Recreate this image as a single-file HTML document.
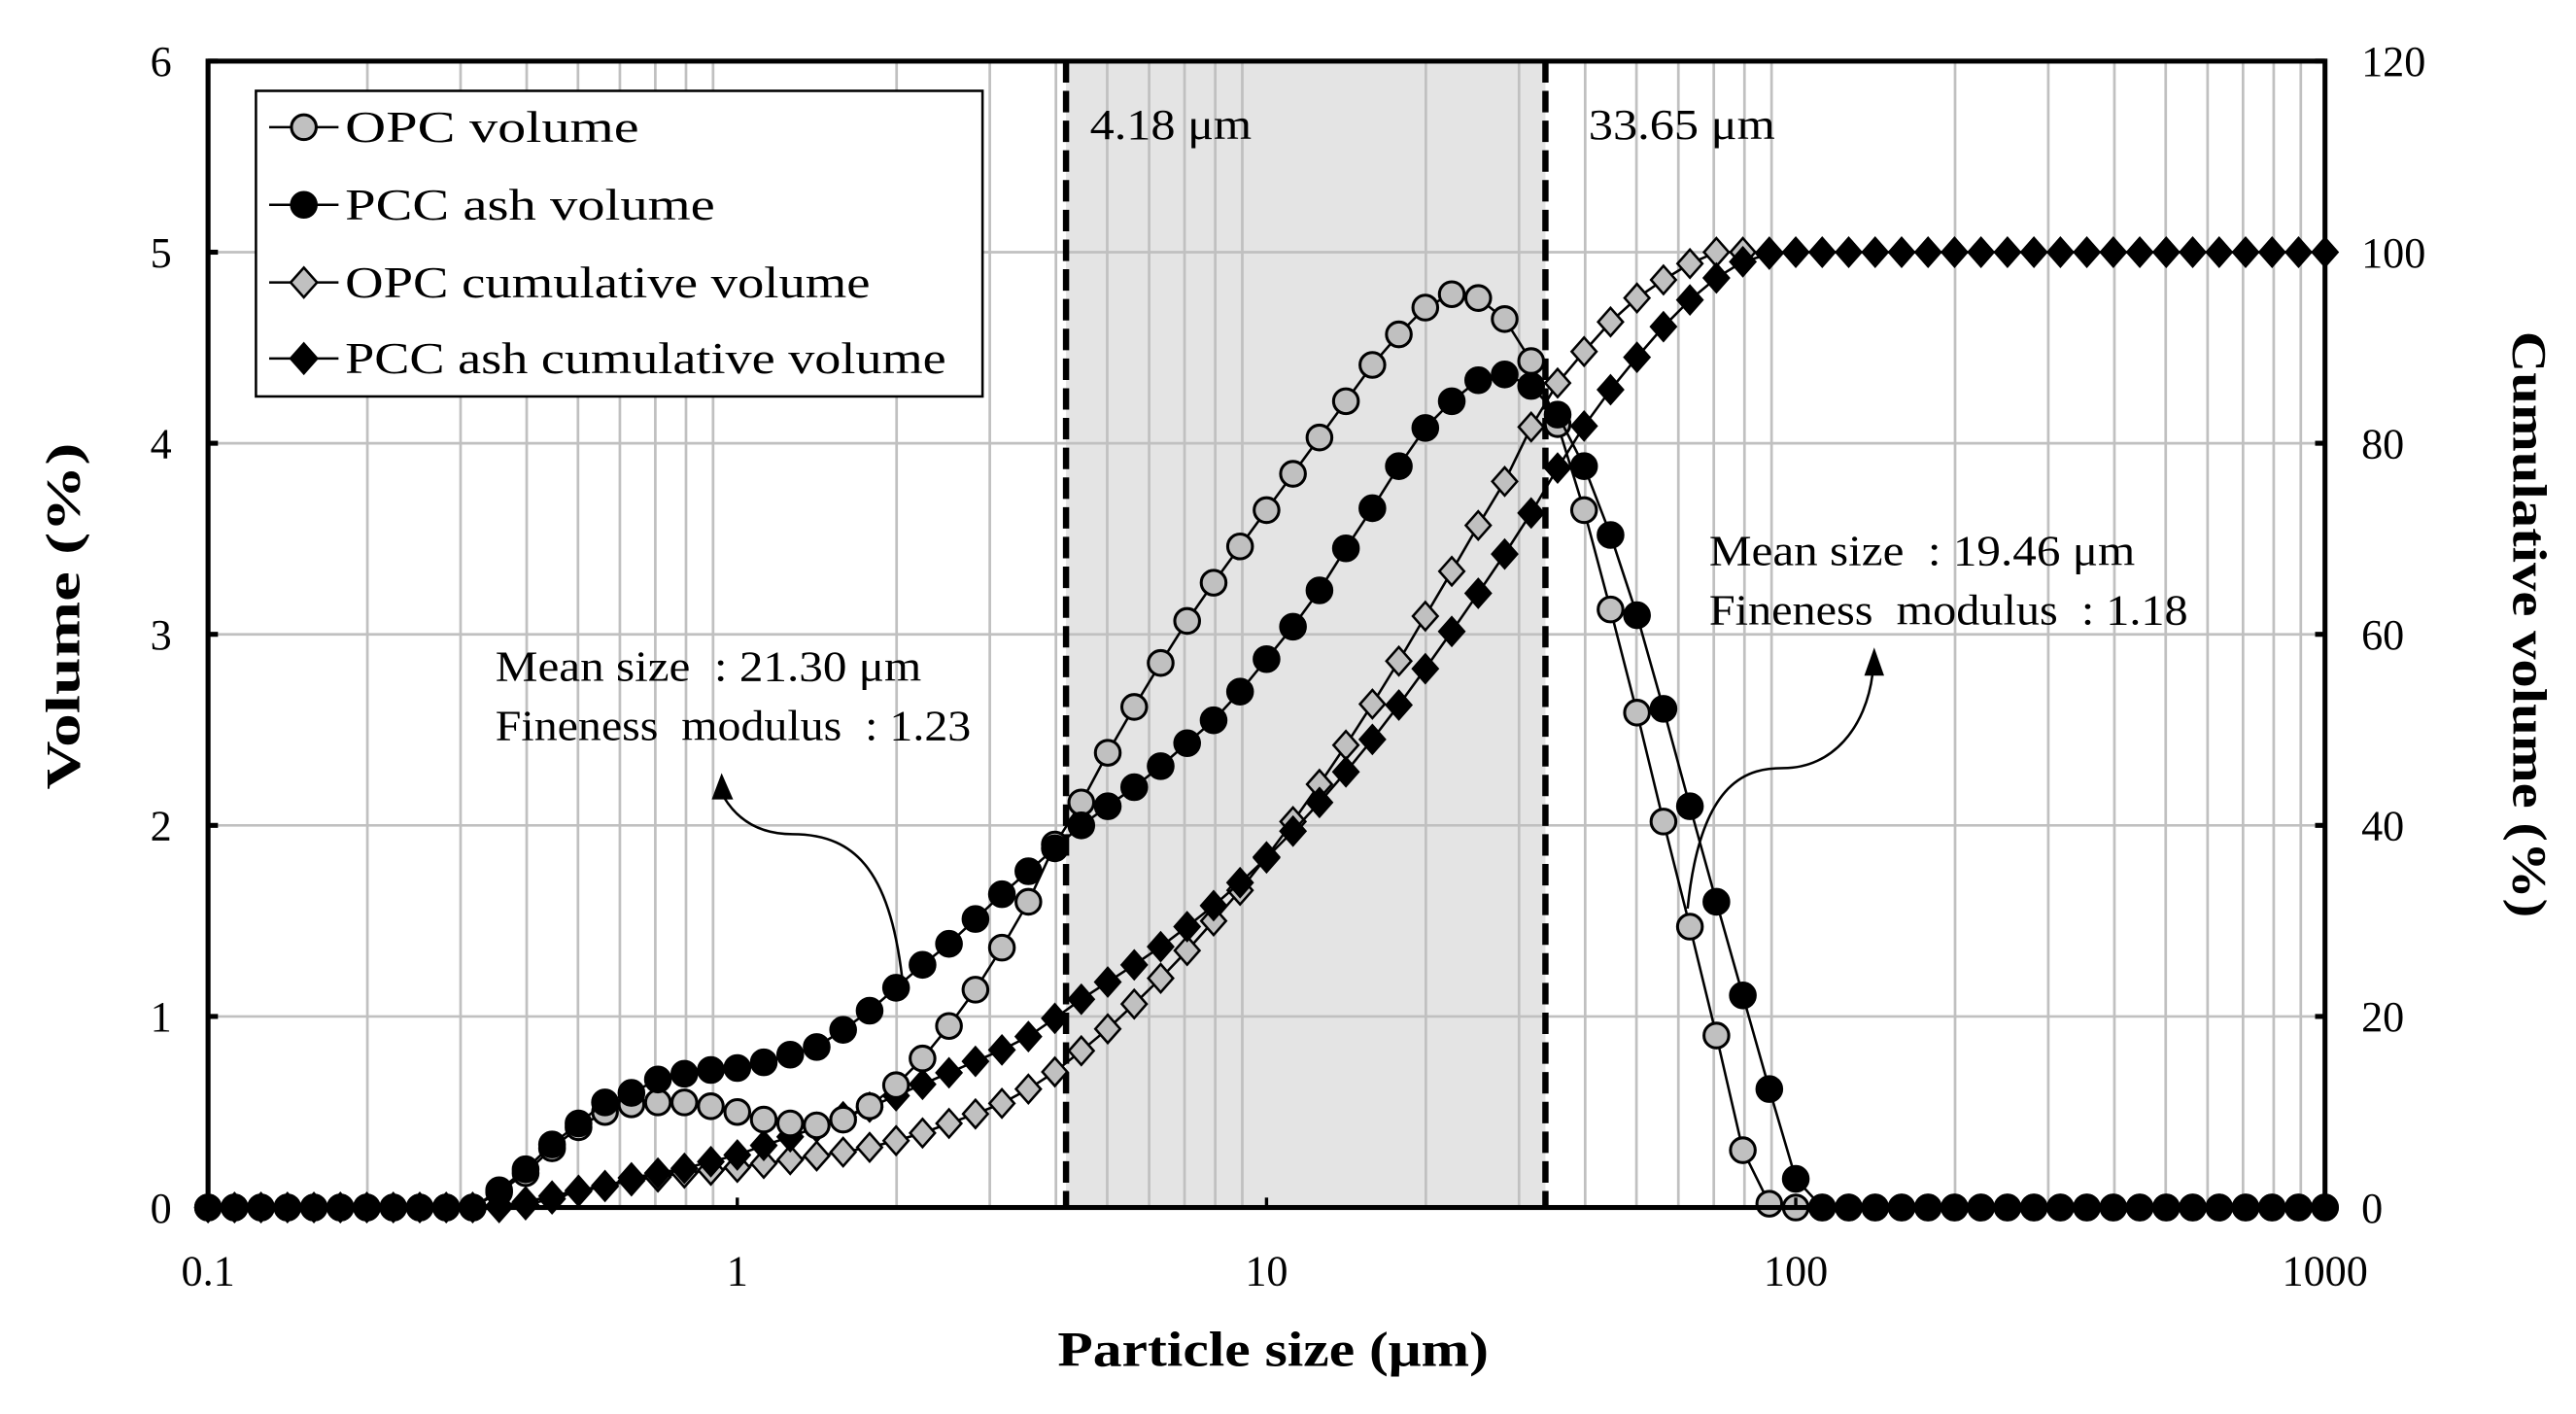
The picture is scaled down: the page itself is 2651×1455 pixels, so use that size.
<!DOCTYPE html>
<html><head><meta charset="utf-8"><style>
html,body{margin:0;padding:0;background:#fff;}
svg{display:block;}
text{font-family:"Liberation Serif",serif;fill:#000;}
</style></head><body>
<svg id="chart" width="2651" height="1455" viewBox="0 0 1560 856" preserveAspectRatio="none" xmlns="http://www.w3.org/2000/svg">
<g id="grid"></g>
<g id="band"></g>
<g id="series"></g>
<g id="axes"></g>
<g>
 <rect x="155" y="55" width="440" height="185" fill="#fff" stroke="#000" stroke-width="1.5"/>
 <g>
  <line x1="163" y1="77" x2="205" y2="77" stroke="#000" stroke-width="1.5"/><circle cx="184" cy="77" r="7.5" fill="#c0c0c0" stroke="#000" stroke-width="1.8"/>
  <text x="209" y="86" font-size="27" textLength="178" lengthAdjust="spacingAndGlyphs">OPC volume</text></g>
 <g>
  <line x1="163" y1="124" x2="205" y2="124" stroke="#000" stroke-width="1.5"/><circle cx="184" cy="124" r="7.5" fill="#000" stroke="#000" stroke-width="1.8"/>
  <text x="209" y="133" font-size="27" textLength="224" lengthAdjust="spacingAndGlyphs">PCC ash volume</text></g>
 <g>
  <line x1="163" y1="171" x2="205" y2="171" stroke="#000" stroke-width="1.5"/><path d="M184 162 L192 171 L184 180 L176 171Z" fill="#c0c0c0" stroke="#000" stroke-width="1.5"/>
  <text x="209" y="180" font-size="27" textLength="318" lengthAdjust="spacingAndGlyphs">OPC cumulative volume</text></g>
 <g>
  <line x1="163" y1="217" x2="205" y2="217" stroke="#000" stroke-width="1.5"/><path d="M184 208 L192 217 L184 226 L176 217Z" fill="#000" stroke="#000" stroke-width="1.5"/>
  <text x="209" y="226" font-size="27" textLength="364" lengthAdjust="spacingAndGlyphs">PCC ash cumulative volume</text></g>
</g>
<g>
 <text x="660" y="84" font-size="26" textLength="98" lengthAdjust="spacingAndGlyphs">4.18 μm</text>
 <text x="962" y="84" font-size="26" textLength="113" lengthAdjust="spacingAndGlyphs">33.65 μm</text>
 <text x="300" y="412" font-size="26" textLength="258" lengthAdjust="spacingAndGlyphs" xml:space="preserve">Mean size  : 21.30 μm</text>
 <text x="300" y="448" font-size="26" textLength="288" lengthAdjust="spacingAndGlyphs" xml:space="preserve">Fineness  modulus  : 1.23</text>
 <text x="1035" y="342" font-size="26" textLength="258" lengthAdjust="spacingAndGlyphs" xml:space="preserve">Mean size  : 19.46 μm</text>
 <text x="1035" y="378" font-size="26" textLength="290" lengthAdjust="spacingAndGlyphs" xml:space="preserve">Fineness  modulus  : 1.18</text>
 <path d="M547 598 C540 530 520 505 480 505 C450 505 440 485 438 482" fill="none" stroke="#000" stroke-width="1.5"/>
 <path d="M437 468 L431 484 L444 484Z" fill="#000"/>
 <path d="M1022 550 C1030 470 1060 465 1080 465 C1110 465 1130 440 1134 408" fill="none" stroke="#000" stroke-width="1.5"/>
 <path d="M1135 392 L1129 409 L1141 409Z" fill="#000"/>
</g>
<text transform="translate(48,373) rotate(-90)" text-anchor="middle" font-size="29" font-weight="bold" textLength="210" lengthAdjust="spacingAndGlyphs">Volume (%)</text>
<text transform="translate(1522,378) rotate(90)" text-anchor="middle" font-size="29" font-weight="bold" textLength="355" lengthAdjust="spacingAndGlyphs">Cumulative volume (%)</text>
<text x="771" y="827" text-anchor="middle" font-size="30" font-weight="bold" textLength="261" lengthAdjust="spacingAndGlyphs">Particle size (μm)</text>
</svg>
<script>
const opcVolume=[0,0,0,0,0,0,0,0,0,0,0,0.08,0.18,0.31,0.42,0.5,0.54,0.55,0.55,0.53,0.5,0.46,0.44,0.43,0.46,0.53,0.64,0.78,0.95,1.14,1.36,1.6,1.9,2.12,2.38,2.62,2.85,3.07,3.27,3.46,3.65,3.84,4.03,4.22,4.41,4.57,4.71,4.78,4.76,4.65,4.43,4.1,3.65,3.13,2.59,2.02,1.47,0.9,0.3,0.02,0,0,0,0,0,0,0,0,0,0,0,0,0,0,0,0,0,0,0,0,0];
const pccVolume=[0,0,0,0,0,0,0,0,0,0,0,0.09,0.2,0.33,0.44,0.55,0.6,0.67,0.7,0.72,0.73,0.76,0.8,0.84,0.93,1.03,1.15,1.27,1.38,1.51,1.64,1.76,1.88,2.0,2.1,2.2,2.31,2.43,2.55,2.7,2.87,3.04,3.23,3.45,3.66,3.88,4.08,4.22,4.33,4.36,4.3,4.15,3.88,3.52,3.1,2.61,2.1,1.6,1.11,0.62,0.15,0,0,0,0,0,0,0,0,0,0,0,0,0,0,0,0,0,0,0,0];
const opcCumulative=[0,0,0,0,0,0,0,0,0,0,0,0.2,0.6,1.2,1.8,2.3,2.8,3.2,3.6,3.9,4.2,4.6,5.0,5.4,5.8,6.3,7.0,7.8,8.8,9.8,10.9,12.4,14.2,16.4,18.7,21.3,24.0,26.9,30.0,33.2,36.7,40.4,44.3,48.4,52.7,57.2,61.9,66.6,71.4,76.0,81.7,86.3,89.6,92.7,95.2,97.1,98.8,100,100,100,100,100,100,100,100,100,100,100,100,100,100,100,100,100,100,100,100,100,100,100,100];
const pccCumulative=[0,0,0,0,0,0,0,0,0,0,0,0,0.3,0.9,1.7,2.2,3.1,3.6,4.1,4.8,5.5,6.5,7.4,8.4,9.5,10.5,11.7,12.9,14.1,15.3,16.5,17.9,19.8,21.8,23.6,25.4,27.3,29.4,31.6,34.0,36.6,39.4,42.4,45.6,49.0,52.6,56.4,60.3,64.3,68.4,72.7,77.4,81.8,85.6,89.0,92.2,95.0,97.3,99.0,99.8,100,100,100,100,100,100,100,100,100,100,100,100,100,100,100,100,100,100,100,100,100];
const leftTicks=[0,1,2,3,4,5,6];
const rightTicks=[0,20,40,60,80,100,120];
const xTicks=[0.1,1,10,100,1000];
const bandBounds=[4.18,33.65];

const NS="http://www.w3.org/2000/svg";
const L=126,R=1408,T=37,B=731;
const sizes=opcVolume.map((_,i)=>0.1*Math.pow(10,i/20));
function xs(v){return L+(Math.log10(v)+1)/4*(R-L);}
function yl(v){return B-v/6*(B-T);}
function yr(v){return B-v/120*(B-T);}
function mk(tag,attrs,parent){const e=document.createElementNS(NS,tag);for(const k in attrs)e.setAttribute(k,attrs[k]);parent.appendChild(e);return e;}
const grid=document.getElementById('grid'),band=document.getElementById('band'),ser=document.getElementById('series'),axes=document.getElementById('axes');
const b=mk('rect',{x:xs(bandBounds[0]),y:T,width:xs(bandBounds[1])-xs(bandBounds[0]),height:B-T,fill:'#e4e4e4'},band);


for(let d=-1;d<3;d++){for(let m=2;m<=9;m++){const x=xs(m*Math.pow(10,d));const g=mk('line',{x1:x,x2:x,y1:T,y2:B,stroke:'#c0c0c0','stroke-width':1.6},grid);

}}
leftTicks.forEach(v=>{const y=yl(v);const g=mk('line',{x1:L,x2:R,y1:y,y2:y,stroke:'#c0c0c0','stroke-width':1.6},grid);

});
grid.parentNode.insertBefore(band,grid);
bandBounds.forEach(v=>{const x=xs(v);const d=mk('line',{x1:x,x2:x,y1:T,y2:B,stroke:'#000','stroke-width':3.8,'stroke-dasharray':'13 5'},ser);

});
function drawSeries(vals,yfn,shape,fill,name){
 const g=mk('g',{},ser);
 
 
 const pts=vals.map((v,i)=>[xs(sizes[i]),yfn(v)]);
 const p=mk('polyline',{points:pts.map(p=>p.join(',')).join(' '),fill:'none',stroke:'#000','stroke-width':1.5},g);
 
 
 pts.forEach(([x,y])=>{let m;
  if(shape==='c')m=mk('circle',{cx:x,cy:y,r:7.5,fill:fill,stroke:'#000','stroke-width':1.8},g);
  else m=mk('path',{d:`M${x} ${y-8.5}L${x+7.5} ${y}L${x} ${y+8.5}L${x-7.5} ${y}Z`,fill:fill,stroke:'#000','stroke-width':1.5},g);
  
  });
}
drawSeries(opcCumulative,yr,'d','#c0c0c0','opc-cumulative-series');
drawSeries(pccCumulative,yr,'d','#000','pcc-cumulative-series');
drawSeries(opcVolume,yl,'c','#c0c0c0','opc-volume-series');
drawSeries(pccVolume,yl,'c','#000','pcc-volume-series');
const f=mk('rect',{x:L,y:T,width:R-L,height:B-T,fill:'none',stroke:'#000','stroke-width':3},axes);


leftTicks.forEach(v=>{const y=yl(v);mk('line',{x1:L,x2:L+6,y1:y,y2:y,stroke:'#000','stroke-width':3},axes);
const t=mk('text',{x:L-22,y:y+9,'text-anchor':'end','font-size':26},axes);t.textContent=v;

});
rightTicks.forEach(v=>{const y=yr(v);mk('line',{x1:R-6,x2:R,y1:y,y2:y,stroke:'#000','stroke-width':3},axes);
const t=mk('text',{x:R+22,y:y+9,'font-size':26},axes);t.textContent=v;

});
xTicks.forEach(v=>{const x=xs(v);mk('line',{x1:x,x2:x,y1:B-6,y2:B,stroke:'#000','stroke-width':2},axes);
const t=mk('text',{x:x,y:B+47,'text-anchor':'middle','font-size':26},axes);t.textContent=v;

});
</script>
</body></html>
